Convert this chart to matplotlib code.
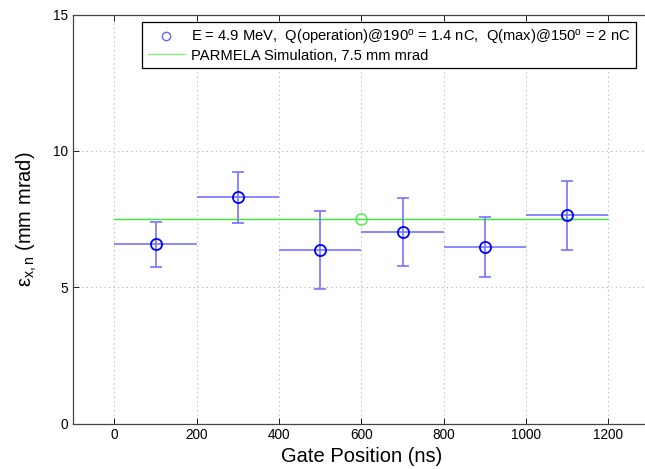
import numpy as np
import matplotlib
matplotlib.use('Agg')
import matplotlib.pyplot as plt

plt.rcParams['font.family'] = ['Liberation Sans', 'DejaVu Sans']
plt.rcParams['mathtext.fontset'] = 'custom'
plt.rcParams['mathtext.rm'] = 'Liberation Sans'
plt.rcParams['mathtext.it'] = 'Liberation Sans:italic'

# gate centres (ns) and half-width of each gate
gate_pos = [100, 300, 500, 700, 900, 1100]
gate_halfwidth = [100, 100, 100, 100, 100, 100]

# measured normalised emittance (mm mrad) with lower / upper error
emit = [6.57, 8.30, 6.36, 7.03, 6.47, 7.64]
emit_lo = [0.82, 0.95, 1.44, 1.26, 1.09, 1.27]
emit_hi = [0.81, 0.94, 1.43, 1.25, 1.10, 1.27]

# PARMELA simulation
sim_x = [0, 1200]
sim_y = [7.5, 7.5]
sim_pt_x = [600]
sim_pt_y = [7.5]

fig = plt.figure(figsize=(6.45, 4.69), dpi=100)
ax = fig.add_axes([0.1137, 0.0968, 0.8933, 0.8719])

blue = '#0000ff'
ebar_blue = '#7474ff'

# vertical bars with caps, gate width drawn without caps
ax.errorbar(gate_pos, emit, yerr=[emit_lo, emit_hi], fmt='none',
            ecolor=ebar_blue, elinewidth=1.2, capsize=4, capthick=1.2,
            zorder=3)
ax.errorbar(gate_pos, emit, xerr=gate_halfwidth, fmt='none',
            ecolor=ebar_blue, elinewidth=1.2, capsize=0, zorder=3)
ax.plot(gate_pos, emit, 'o', mfc='none', mec=blue, ms=8, mew=1.3,
        zorder=4)
ax.plot(sim_x, sim_y, '-', color='#33ee33', lw=1.0, zorder=2)
ax.plot(sim_pt_x, sim_pt_y, 'o', mfc='none', mec='#44ee44', ms=8,
        mew=1.0, zorder=4)

# legend proxies
h1, = ax.plot([], [], 'o', mfc='none', mec='#6666ff', ms=6, mew=1.0)
h2, = ax.plot([], [], '-', color='#88ee88', lw=1.0)
ax.legend([h1, h2],
          [r'E = 4.9 MeV,  Q(operation)@190$^{\mathrm{o}}$ = 1.4 nC,  '
           r'Q(max)@150$^{\mathrm{o}}$ = 2 nC',
           'PARMELA Simulation, 7.5 mm mrad'],
          loc='upper left', bbox_to_anchor=(0.1198, 0.9814),
          borderaxespad=0, fontsize=10.6, handlelength=2.5,
          handletextpad=0.4, labelspacing=0.12, borderpad=0.38,
          fancybox=False, framealpha=1, edgecolor='black')
ax.get_legend().get_frame().set_linewidth(0.9)

ax.set_xlim(-100, 1300)
ax.set_ylim(0, 15)
ax.set_xticks(np.arange(0, 1201, 200))
ax.set_yticks([0, 5, 10, 15])
ax.grid(True, linestyle=(0, (1, 3)), color='#b0b0b0', linewidth=0.8)
ax.set_axisbelow(True)
ax.tick_params(direction='in', top=True, right=False, labelsize=9.8,
               length=4, width=0.6)
for sp in ax.spines.values():
    sp.set_color('#444444')
    sp.set_linewidth(0.9)
ax.spines['right'].set_visible(False)

ax.set_xlabel('Gate Position (ns)', fontsize=14.5, labelpad=3)
ax.set_ylabel('ε$_{\\mathrm{x,n}}$ (mm mrad)', fontsize=14.5,
              labelpad=10)

fig.savefig('out.png', dpi=100)
